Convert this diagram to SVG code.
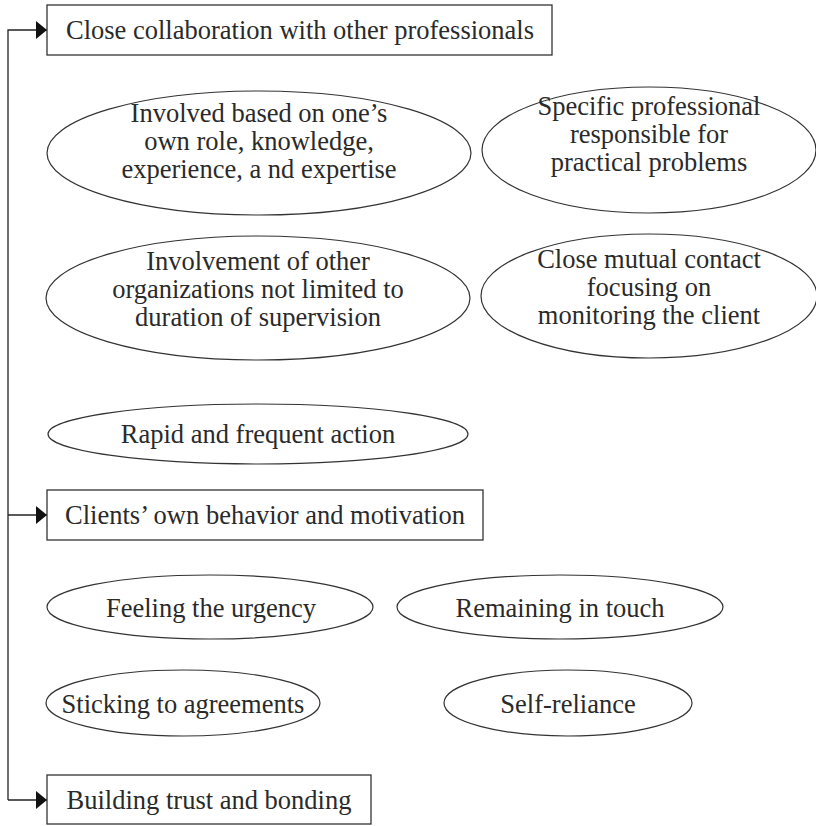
<svg xmlns="http://www.w3.org/2000/svg" width="816" height="826" viewBox="0 0 816 826">
<style>
text{font-family:"Liberation Serif","Times New Roman",serif;font-size:26.5px;fill:#2a2a2a;text-anchor:middle}
.box{fill:#fff;stroke:#333;stroke-width:1.3}
.ell{fill:#fff;stroke:#333;stroke-width:1.2}
.con{fill:none;stroke:#222;stroke-width:1.3}
</style>
<defs>
<marker id="ah" markerWidth="11" markerHeight="18" refX="11" refY="9" orient="auto" markerUnits="userSpaceOnUse">
<path d="M0,0 L11,9 L0,18 Z" fill="#111"/>
</marker>
</defs>
<g id="connectors">
<path class="con" d="M8,800 L8,30 L47,30" marker-end="url(#ah)"/>
<path class="con" d="M8,515 L47,515" marker-end="url(#ah)"/>
<path class="con" d="M8,800 L47,800" marker-end="url(#ah)"/>
</g>
<g id="n1"><rect class="box" x="47" y="5" width="505" height="50"/><text x="300" y="39">Close collaboration with other professionals</text></g>
<g id="e1"><ellipse class="ell" cx="259" cy="153" rx="212" ry="62"/><text x="259" y="122">Involved based on one’s</text><text x="259" y="150">own role, knowledge,</text><text x="259" y="178">experience, a nd expertise</text></g>
<g id="e2"><ellipse class="ell" cx="649" cy="150" rx="167" ry="63"/><text x="649" y="115">Specific professional</text><text x="649" y="143">responsible for</text><text x="649" y="171">practical problems</text></g>
<g id="e3"><ellipse class="ell" cx="258" cy="298" rx="212" ry="62"/><text x="258" y="270">Involvement of other</text><text x="258" y="298">organizations not limited to</text><text x="258" y="326">duration of supervision</text></g>
<g id="e4"><ellipse class="ell" cx="649" cy="296" rx="168" ry="62"/><text x="649" y="268">Close mutual contact</text><text x="649" y="296">focusing on</text><text x="649" y="324">monitoring the client</text></g>
<g id="e5"><ellipse class="ell" cx="258" cy="434" rx="210" ry="30"/><text x="258" y="443">Rapid and frequent action</text></g>
<g id="n2"><rect class="box" x="47" y="490" width="436" height="50"/><text x="265" y="524">Clients’ own behavior and motivation</text></g>
<g id="e6"><ellipse class="ell" cx="210" cy="607" rx="163" ry="32"/><text x="211" y="617">Feeling the urgency</text></g>
<g id="e7"><ellipse class="ell" cx="560" cy="607" rx="163" ry="32"/><text x="560" y="617">Remaining in touch</text></g>
<g id="e8"><ellipse class="ell" cx="183" cy="703" rx="137" ry="33"/><text x="183" y="713">Sticking to agreements</text></g>
<g id="e9"><ellipse class="ell" cx="568" cy="703" rx="124" ry="33"/><text x="568" y="713">Self-reliance</text></g>
<g id="n3"><rect class="box" x="47" y="775" width="324" height="49"/><text x="209" y="809">Building trust and bonding</text></g>
</svg>
